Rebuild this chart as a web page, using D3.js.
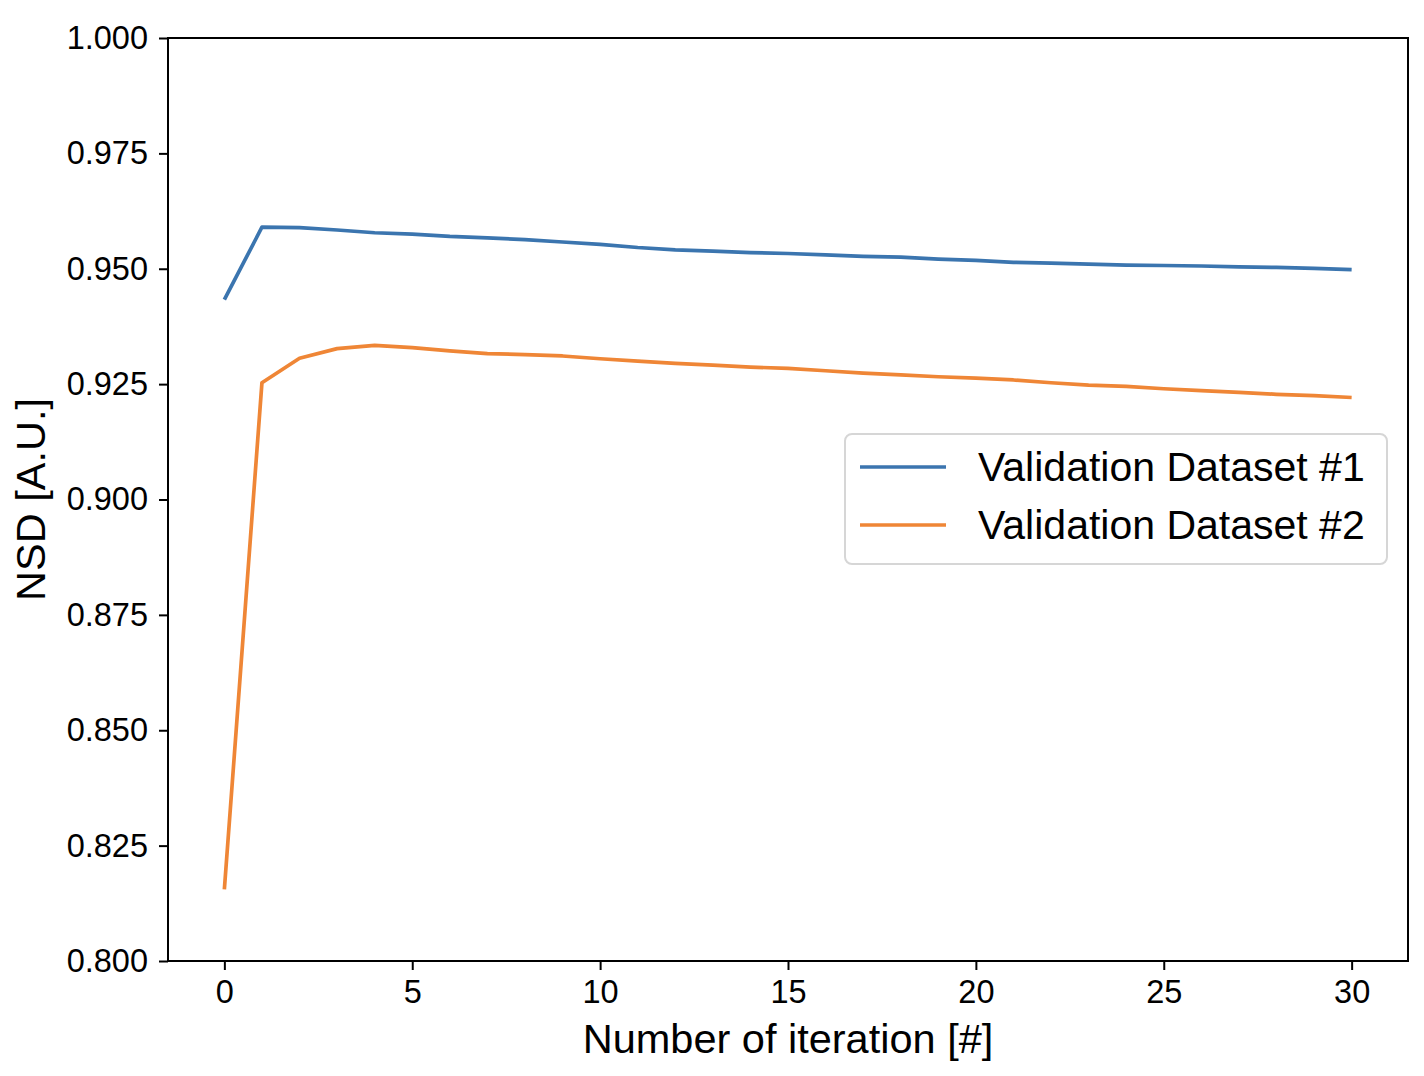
<!DOCTYPE html>
<html>
<head>
<meta charset="utf-8">
<script src="https://cdn.jsdelivr.net/npm/d3@7"></script>
<style>
  body { margin: 0; background: #fff; }
  text { font-family: "Liberation Sans", Arial, sans-serif; fill: #000; }
</style>
</head>
<body>
<script>
// data
const iterations = d3.range(0, 31)
const dataset1 = [0.9433, 0.9590, 0.9589, 0.9584, 0.9578, 0.9575, 0.9570, 0.9567, 0.9563, 0.9558,
    0.9553, 0.9546, 0.9541, 0.9538, 0.9535, 0.9533, 0.9530, 0.9527, 0.9525, 0.9521,
    0.9518, 0.9514, 0.9512, 0.9510, 0.9508, 0.9507, 0.9506, 0.9504, 0.9503, 0.9501, 0.9498]
const dataset2 = [0.8155, 0.9253, 0.9306, 0.9327, 0.9334, 0.9329, 0.9322, 0.9316, 0.9314, 0.9311,
    0.9305, 0.9300, 0.9295, 0.9291, 0.9287, 0.9284, 0.9279, 0.9274, 0.9270, 0.9266,
    0.9263, 0.9259, 0.9253, 0.9248, 0.9245, 0.9240, 0.9236, 0.9232, 0.9228, 0.9225, 0.9221]
const seriesNames = ["Validation Dataset #1", "Validation Dataset #2"]
const colors = ["#3b75af", "#ef8636"]
const xTicks = [0, 5, 10, 15, 20, 25, 30]
const yTicks = [0.800, 0.825, 0.850, 0.875, 0.900, 0.925, 0.950, 0.975, 1.000]

const width = 1424
const height = 1076
const margin = { top: 38, right: 16, bottom: 115, left: 168 }

const svg = d3.select("body")
    .append("svg")
    .attr("width", width)
    .attr("height", height)

const x = d3.scaleLinear()
    .domain([-1.5, 31.5])
    .range([margin.left, width - margin.right])

const y = d3.scaleLinear()
    .domain([0.8, 1.0])
    .range([height - margin.bottom, margin.top])

// axes
const xAxis = svg.append("g")
    .attr("transform", `translate(0,${height - margin.bottom})`)
    .call(d3.axisBottom(x).tickValues(xTicks).tickFormat(d3.format("d")).tickSize(9).tickPadding(10))

const yAxis = svg.append("g")
    .attr("transform", `translate(${margin.left},0)`)
    .call(d3.axisLeft(y).tickValues(yTicks).tickFormat(d3.format(".3f")).tickSize(9).tickPadding(11))

for (const ax of [xAxis, yAxis]) {
    ax.select(".domain").remove()
    ax.selectAll(".tick line").attr("stroke", "#000").attr("stroke-width", 2)
    ax.selectAll(".tick text").attr("font-size", 32.5).attr("fill", "#000")
        .style("font-family", "'Liberation Sans', Arial, sans-serif")
}

// lines
const line = d3.line()
    .x((d, i) => x(iterations[i]))
    .y(d => y(d))

const series = [dataset1, dataset2]
svg.selectAll("path.series")
    .data(series)
    .enter()
    .append("path")
    .attr("class", "series")
    .attr("d", line)
    .attr("fill", "none")
    .attr("stroke", (d, i) => colors[i])
    .attr("stroke-width", 3.7)
    .attr("stroke-linejoin", "round")

// frame
svg.append("rect")
    .attr("x", margin.left)
    .attr("y", margin.top)
    .attr("width", width - margin.left - margin.right)
    .attr("height", height - margin.top - margin.bottom)
    .attr("fill", "none")
    .attr("stroke", "#000")
    .attr("stroke-width", 2)

// axis labels
svg.append("text")
    .attr("x", (margin.left + width - margin.right) / 2)
    .attr("y", 1053)
    .attr("text-anchor", "middle")
    .attr("font-size", 41.5)
    .text("Number of iteration [#]")

svg.append("text")
    .attr("transform", `translate(45,${(margin.top + height - margin.bottom) / 2}) rotate(-90)`)
    .attr("text-anchor", "middle")
    .attr("font-size", 41.5)
    .text("NSD [A.U.]")

// legend
const legend = svg.append("g")
    .attr("transform", "translate(845,434)")

legend.append("rect")
    .attr("width", 542)
    .attr("height", 130)
    .attr("rx", 7)
    .attr("fill", "#fff")
    .attr("stroke", "#d6d6d6")
    .attr("stroke-width", 2)

seriesNames.forEach((name, i) => {
    legend.append("line")
        .attr("x1", 15)
        .attr("x2", 101)
        .attr("y1", 33 + i * 58)
        .attr("y2", 33 + i * 58)
        .attr("stroke", colors[i])
        .attr("stroke-width", 3.7)
    legend.append("text")
        .attr("x", 133)
        .attr("y", 33 + i * 58 + 14)
        .attr("font-size", 41)
        .text(name)
})
</script>
</body>
</html>
